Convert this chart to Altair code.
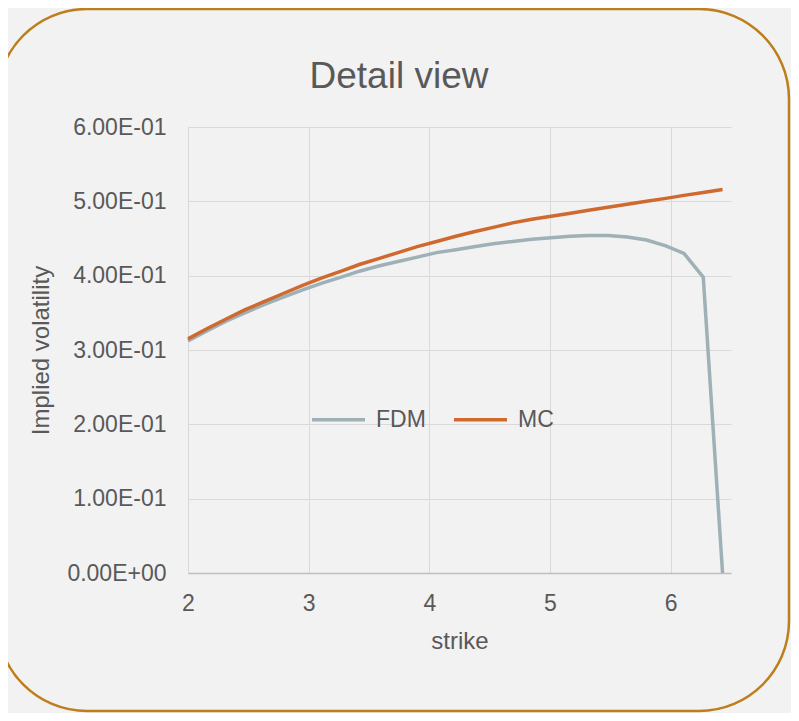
import altair as alt
import pandas as pd

strikes = [2.00, 2.16, 2.32, 2.47, 2.63, 2.79, 2.95, 3.11, 3.27, 3.42, 3.58, 3.74,
           3.90, 4.06, 4.22, 4.37, 4.53, 4.69, 4.85, 5.01, 5.17, 5.32, 5.48, 5.64,
           5.80, 5.96, 6.11, 6.27, 6.43]
fdm = [0.312, 0.326, 0.339, 0.350, 0.361, 0.371, 0.381, 0.390, 0.398, 0.406, 0.413,
       0.419, 0.425, 0.431, 0.435, 0.439, 0.443, 0.446, 0.449, 0.451, 0.453, 0.454,
       0.454, 0.452, 0.448, 0.440, 0.430, 0.398, 0.000]
mc = [0.315, 0.329, 0.342, 0.354, 0.365, 0.376, 0.387, 0.397, 0.406, 0.415, 0.423,
      0.431, 0.439, 0.446, 0.453, 0.459, 0.465, 0.471, 0.476, 0.480, 0.484, 0.488,
      0.492, 0.496, 0.500, 0.504, 0.508, 0.512, 0.516]
series_names = ["FDM", "MC"]
series_colors = ["#9DB1B7", "#CF692E"]
x_ticks = [2, 3, 4, 5, 6]
y_ticks = [0.0, 0.1, 0.2, 0.3, 0.4, 0.5, 0.6]
chart_title = "Detail view"

rows = []
for s, v in zip(strikes, fdm):
    rows.append({"strike": s, "value": v, "series": "FDM"})
for s, v in zip(strikes, mc):
    rows.append({"strike": s, "value": v, "series": "MC"})
df = pd.DataFrame(rows)

FONT = "Liberation Sans"
TXT = "#595959"

lines = alt.Chart(df).mark_line(strokeWidth=3.5).encode(
    x=alt.X("strike:Q", scale=alt.Scale(domain=[2, 6.5], nice=False, zero=False),
            axis=alt.Axis(values=x_ticks, title="strike", ticks=False, labelFlush=False,
                          labelFontSize=23, titleFontSize=24, labelColor=TXT,
                          titleColor=TXT, labelFont=FONT, titleFont=FONT,
                          titleFontWeight="normal", labelPadding=19, titlePadding=14,
                          gridColor="#D9D9D9", domainColor="#BFBFBF", domainWidth=1.5)),
    y=alt.Y("value:Q", scale=alt.Scale(domain=[0, 0.6], nice=False),
            axis=alt.Axis(values=y_ticks, title="Implied volatility", ticks=False,
                          domain=False, labelFontSize=23, titleFontSize=24,
                          labelColor=TXT, titleColor=TXT, labelFont=FONT,
                          titleFont=FONT, titleFontWeight="normal", labelPadding=22,
                          titlePadding=13, gridColor="#D9D9D9",
                          labelExpr="datum.value == 0 ? '0.00E+00' : format(datum.value*10, '.2f') + 'E-01'")),
    color=alt.Color("series:N", scale=alt.Scale(domain=series_names, range=series_colors),
                    legend=alt.Legend(title=None, orient="none", direction="horizontal",
                                      legendX=122, legendY=264, symbolType="stroke",
                                      symbolSize=2809, symbolStrokeWidth=3.5,
                                      labelFontSize=23, labelFont=FONT, labelColor=TXT,
                                      labelOffset=9, columnPadding=21)),
)

border = alt.Chart(pd.DataFrame({"k": [0]})).mark_rect(
    filled=False, stroke="#BE7E1C", strokeWidth=2.5, cornerRadius=90
).encode(
    x=alt.value(-191), x2=alt.value(601), y=alt.value(-118), y2=alt.value(584)
)

title_mark = alt.Chart(pd.DataFrame({"t": [chart_title]})).mark_text(
    font=FONT, fontSize=37, color=TXT, align="center", baseline="alphabetic"
).encode(text="t:N", x=alt.value(211), y=alt.value(-39))

chart = alt.layer(border, lines, title_mark).properties(
    width=543, height=446,
    autosize=alt.AutoSizeParams(type="none"),
    padding={"left": 180, "top": 119, "right": 60, "bottom": 140},
).configure(background="#F2F2F2").configure_view(stroke=None)

chart.save("out.html", embed_options={"renderer": "svg", "actions": False})
